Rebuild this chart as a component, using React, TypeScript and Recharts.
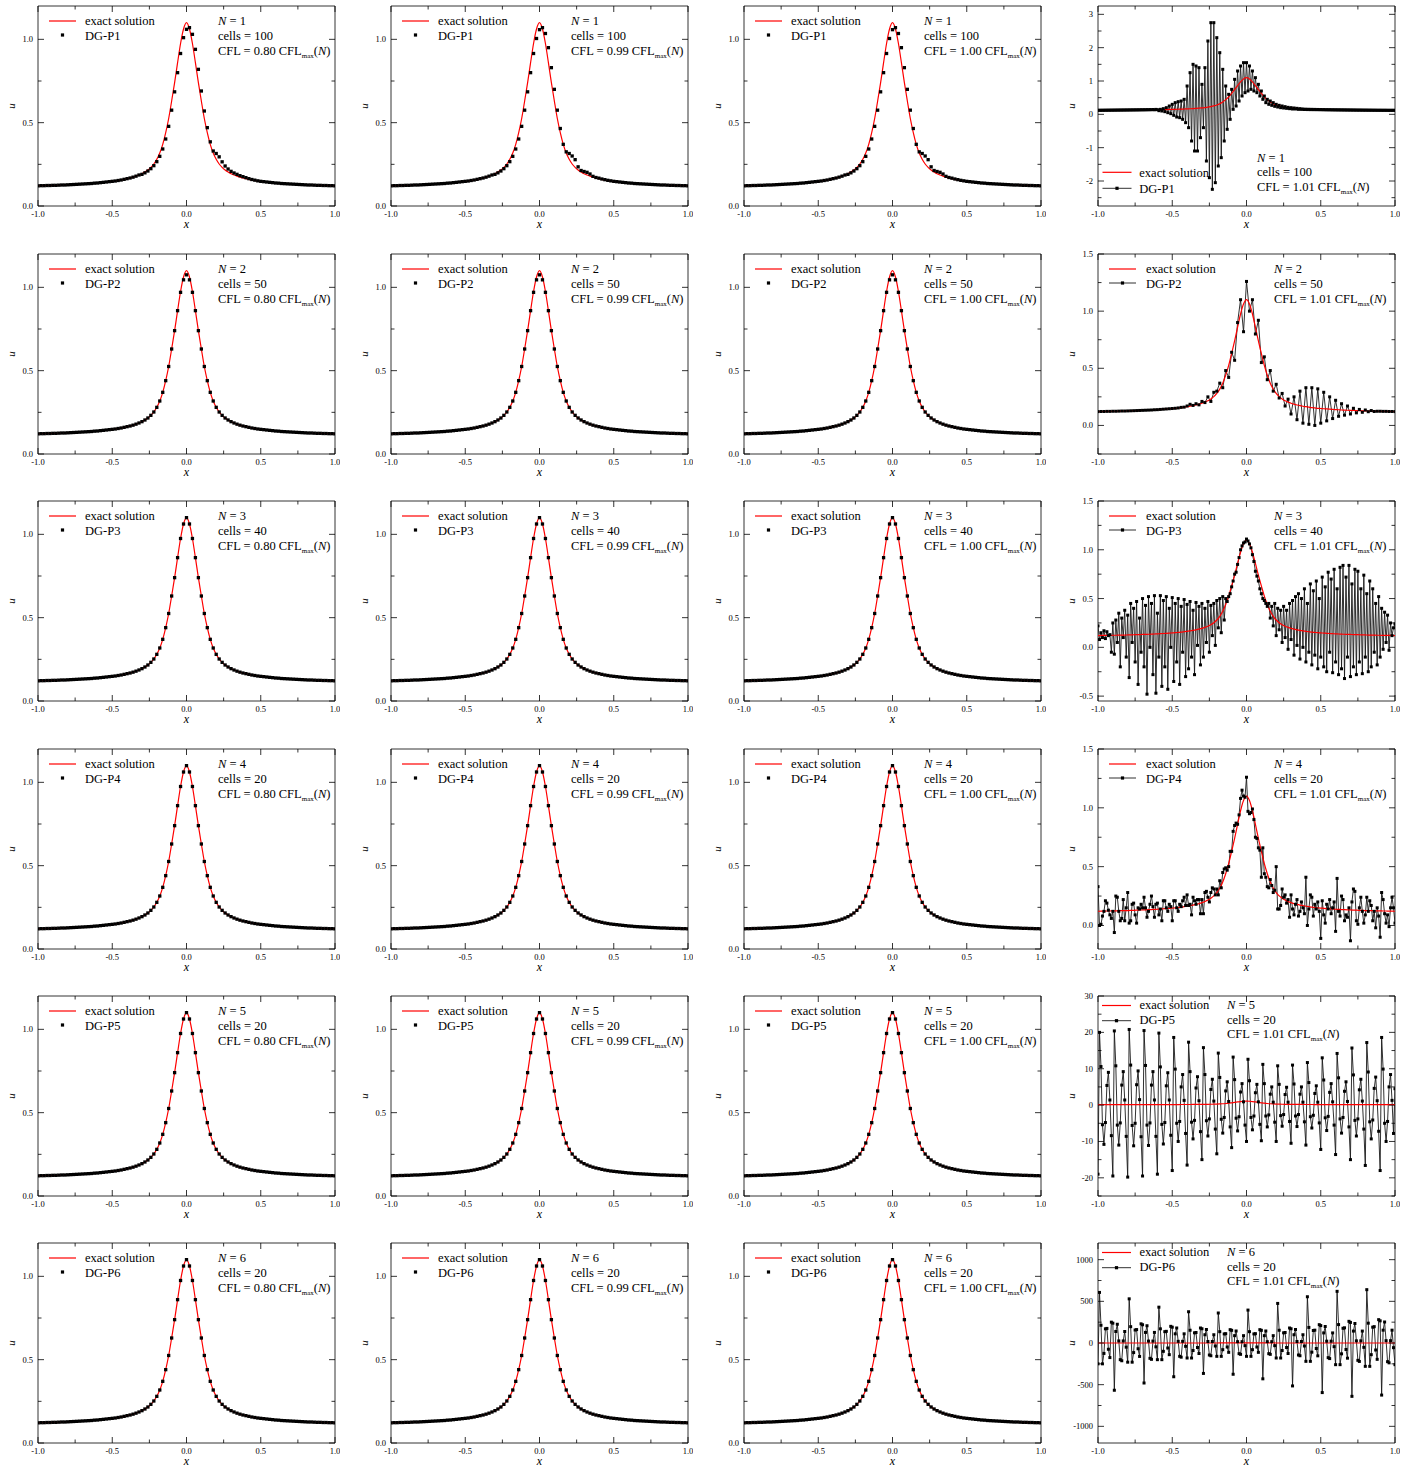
import { LineChart, Line, XAxis, YAxis, ReferenceArea } from "recharts";

const FONT = "'Liberation Serif', 'Times New Roman', Times, serif";
const PW = 297; // plot width
const PH = 200; // plot height
const ML = 36; // y axis width
const MT = 5; // top margin

const colLeft = [38, 391, 744, 1098];
const rowTop = [6, 254, 501, 749, 996, 1243];
const cflLabels = ["0.80", "0.99", "1.00", "1.01"];
const cellCounts = [100, 50, 40, 20, 20, 20];

const xTicks = [-1, -0.75, -0.5, -0.25, 0, 0.25, 0.5, 0.75, 1];
const xMajor = [-1, -0.5, 0, 0.5, 1];

// exact solution, sampled every 0.02 on [-1, 1]
const exactU = [
  0.121, 0.122, 0.122, 0.123, 0.123, 0.124, 0.124, 0.125, 0.126, 0.126,
  0.127, 0.128, 0.129, 0.13, 0.131, 0.132, 0.133, 0.134, 0.135, 0.137,
  0.138, 0.14, 0.142, 0.144, 0.146, 0.148, 0.15, 0.153, 0.156, 0.16,
  0.164, 0.168, 0.173, 0.179, 0.186, 0.194, 0.204, 0.216, 0.232, 0.252,
  0.28, 0.318, 0.37, 0.44, 0.525, 0.63, 0.74, 0.86, 0.975, 1.062,
  1.1,
  1.062, 0.975, 0.86, 0.74, 0.63, 0.525, 0.44, 0.37, 0.318, 0.28,
  0.252, 0.232, 0.216, 0.204, 0.194, 0.186, 0.179, 0.173, 0.168, 0.164,
  0.16, 0.156, 0.153, 0.15, 0.148, 0.146, 0.144, 0.142, 0.14, 0.138,
  0.137, 0.135, 0.134, 0.133, 0.132, 0.131, 0.13, 0.129, 0.128, 0.127,
  0.126, 0.126, 0.125, 0.124, 0.124, 0.123, 0.123, 0.122, 0.122, 0.121,
];

// DG-P1, 100 cells, CFL 0.80 (every 0.02)
const dgP1cfl080 = [
  0.121, 0.122, 0.122, 0.123, 0.123, 0.124, 0.124, 0.125, 0.126, 0.126,
  0.127, 0.128, 0.129, 0.13, 0.131, 0.132, 0.133, 0.134, 0.135, 0.137,
  0.138, 0.14, 0.142, 0.144, 0.146, 0.148, 0.15, 0.153, 0.156, 0.16,
  0.164, 0.168, 0.173, 0.179, 0.186, 0.19, 0.199, 0.21, 0.224, 0.242,
  0.266, 0.298, 0.342, 0.402, 0.478, 0.575, 0.685, 0.8, 0.915, 1.01,
  1.06,
  1.07, 1.03, 0.94, 0.82, 0.69, 0.57, 0.47, 0.385, 0.33, 0.315,
  0.295, 0.265, 0.24, 0.222, 0.208, 0.198, 0.19, 0.182, 0.176, 0.17,
  0.164, 0.159, 0.155, 0.151, 0.148, 0.146, 0.144, 0.142, 0.14, 0.138,
  0.137, 0.135, 0.134, 0.133, 0.132, 0.131, 0.13, 0.129, 0.128, 0.127,
  0.126, 0.126, 0.125, 0.124, 0.124, 0.123, 0.123, 0.122, 0.122, 0.121,
];

// DG-P1, 100 cells, CFL 0.99 / 1.00
const dgP1cfl099 = [
  0.121, 0.122, 0.122, 0.123, 0.123, 0.124, 0.124, 0.125, 0.126, 0.126,
  0.127, 0.128, 0.129, 0.13, 0.131, 0.132, 0.133, 0.134, 0.135, 0.137,
  0.138, 0.14, 0.142, 0.144, 0.146, 0.148, 0.15, 0.153, 0.156, 0.16,
  0.164, 0.168, 0.173, 0.179, 0.186, 0.19, 0.199, 0.21, 0.224, 0.242,
  0.266, 0.298, 0.342, 0.402, 0.478, 0.575, 0.685, 0.8, 0.915, 1.005,
  1.058,
  1.07, 1.035, 0.95, 0.83, 0.7, 0.575, 0.465, 0.37, 0.325, 0.315,
  0.3, 0.278, 0.235, 0.213, 0.207, 0.202, 0.192, 0.178, 0.171, 0.167,
  0.162, 0.158, 0.154, 0.151, 0.148, 0.146, 0.144, 0.142, 0.14, 0.138,
  0.137, 0.135, 0.134, 0.133, 0.132, 0.131, 0.13, 0.129, 0.128, 0.127,
  0.126, 0.126, 0.125, 0.124, 0.124, 0.123, 0.123, 0.122, 0.122, 0.121,
];

// DG-P2, 50 cells, stable CFL
const dgP2 = [
  0.121, 0.122, 0.122, 0.123, 0.123, 0.124, 0.124, 0.125, 0.126, 0.126,
  0.127, 0.128, 0.129, 0.13, 0.131, 0.132, 0.133, 0.134, 0.135, 0.137,
  0.138, 0.14, 0.142, 0.144, 0.146, 0.148, 0.15, 0.153, 0.156, 0.16,
  0.164, 0.168, 0.173, 0.179, 0.186, 0.194, 0.204, 0.216, 0.232, 0.252,
  0.28, 0.318, 0.37, 0.44, 0.525, 0.63, 0.74, 0.86, 0.97, 1.045,
  1.075,
  1.045, 0.97, 0.86, 0.74, 0.63, 0.525, 0.44, 0.37, 0.318, 0.28,
  0.252, 0.232, 0.216, 0.204, 0.194, 0.186, 0.179, 0.173, 0.168, 0.164,
  0.16, 0.156, 0.153, 0.15, 0.148, 0.146, 0.144, 0.142, 0.14, 0.138,
  0.137, 0.135, 0.134, 0.133, 0.132, 0.131, 0.13, 0.129, 0.128, 0.127,
  0.126, 0.126, 0.125, 0.124, 0.124, 0.123, 0.123, 0.122, 0.122, 0.121,
];

// CFL = 1.01 CFLmax runs
const unstableP1 = [
  0.12, 0.122, 0.121, 0.123, 0.122, 0.124, 0.123, 0.125, 0.124, 0.126,
  0.125, 0.127, 0.126, 0.128, 0.127, 0.129, 0.128, 0.13, 0.129, 0.131,
  0.13, 0.132, 0.131, 0.133, 0.132, 0.134, 0.133, 0.135, 0.134, 0.137,
  0.135, 0.138, 0.136, 0.14, 0.137, 0.142, 0.138, 0.145, 0.136, 0.148,
  0.14, 0.11, 0.15, 0.1, 0.17, 0.08, 0.2, 0.05, 0.25, 0.02,
  0.3, -0.03, 0.35, -0.08, 0.38, -0.1, 0.4, -0.15, 0.45, -0.25,
  0.85, -0.4, 1.25, -0.8, 1.5, -1.1, 1.45, -1.1, 1.4, -0.7,
  0.9, -0.4, 1.4, -1.4, 2.2, -1.9, 2.75, -2.25, 2.75, -2.05,
  2.3, -1.55, 1.85, -1.3, 1.35, -0.8, 0.85, -0.45, 0.6, -0.15,
  0.75, 0.15, 1.05, 0.25, 1.3, 0.4, 1.45, 0.55, 1.55, 0.65,
  1.55, 0.7, 1.45, 0.75, 1.3, 0.7, 1.1, 0.65, 0.9, 0.55,
  0.7, 0.45, 0.55, 0.35, 0.45, 0.3, 0.4, 0.27, 0.35, 0.24,
  0.3, 0.22, 0.27, 0.2, 0.25, 0.19, 0.23, 0.18, 0.21, 0.17,
  0.2, 0.16, 0.19, 0.16, 0.18, 0.15, 0.17, 0.15, 0.16, 0.145,
  0.155, 0.143, 0.152, 0.141, 0.15, 0.14, 0.148, 0.139, 0.146, 0.138,
  0.144, 0.137, 0.142, 0.136, 0.14, 0.135, 0.139, 0.134, 0.137, 0.133,
  0.136, 0.132, 0.135, 0.131, 0.134, 0.13, 0.133, 0.129, 0.132, 0.128,
  0.131, 0.127, 0.13, 0.126, 0.129, 0.125, 0.128, 0.125, 0.127, 0.124,
  0.126, 0.124, 0.125, 0.123, 0.125, 0.122, 0.124, 0.122, 0.123, 0.121,
  0.123, 0.121, 0.122, 0.121, 0.122, 0.12, 0.121, 0.12, 0.121, 0.12,
  0.12,
];

const unstableP2 = [
  0.121, 0.122, 0.122, 0.123, 0.123, 0.124, 0.124, 0.125, 0.126, 0.126,
  0.127, 0.128, 0.129, 0.13, 0.131, 0.132, 0.133, 0.134, 0.135, 0.137,
  0.138, 0.14, 0.142, 0.144, 0.146, 0.148,
  0.15, 0.153, 0.158, 0.16, 0.17, 0.185, 0.175, 0.19, 0.18, 0.21,
  0.2, 0.25, 0.21, 0.29, 0.3, 0.37, 0.33, 0.48, 0.42,
  0.64, 0.57, 0.9, 1.1, 0.82, 1.26, 1.0, 1.1, 0.8, 0.92,
  0.55, 0.6, 0.4, 0.48, 0.3, 0.36, 0.24, 0.28, 0.17, 0.23,
  0.1, 0.25, 0.05, 0.3, 0.02, 0.33, 0.01, 0.33, 0.0, 0.32,
  0.02, 0.29, 0.04, 0.25, 0.06, 0.22, 0.08, 0.19, 0.09, 0.17,
  0.1, 0.15, 0.11, 0.14, 0.115, 0.135, 0.12, 0.13, 0.122, 0.124,
  0.124, 0.123, 0.123, 0.122, 0.122, 0.121,
];

const unstableP3 = [
  0.22, 0.08, 0.15, 0.1, 0.17, 0.09, 0.16, 0.12, 0.13, -0.05,
  0.25, -0.07, 0.28, 0.05, 0.35, -0.2, 0.3, 0.1, 0.38, -0.1,
  0.33, -0.31, 0.45, 0.05, 0.4, -0.15, 0.47, -0.38, 0.3, -0.05,
  0.5, -0.2, 0.43, -0.48, 0.52, 0.0, 0.45, -0.28, 0.53, -0.47,
  0.35, -0.1, 0.53, -0.4, 0.48, -0.2, 0.52, -0.43, 0.4, 0.0,
  0.51, -0.35, 0.45, -0.15, 0.5, -0.38, 0.42, -0.05, 0.49, -0.3,
  0.44, -0.22, 0.47, -0.1, 0.38, -0.28, 0.46, 0.02, 0.42, -0.18,
  0.45, -0.1, 0.4, 0.05, 0.47, -0.05, 0.43, 0.12, 0.45, 0.02,
  0.48, 0.2, 0.5, 0.15, 0.52, 0.28,
  0.5, 0.47, 0.52, 0.55, 0.62, 0.68, 0.75, 0.77, 0.85, 0.92,
  1.0, 1.04, 1.07, 1.08, 1.11, 1.09, 1.06, 1.02, 0.95, 0.88,
  0.78, 0.73, 0.68, 0.6, 0.55, 0.5, 0.48, 0.45, 0.42,
  0.45, 0.3, 0.42, 0.22, 0.45, 0.12, 0.4, 0.18, 0.38, 0.05,
  0.42, 0.1, 0.38, -0.02, 0.45, 0.08, 0.48, -0.08, 0.52, 0.02,
  0.55, -0.12, 0.5, 0.0, 0.6, -0.15, 0.45, -0.05, 0.65, -0.18,
  0.58, -0.08, 0.68, -0.22, 0.5, -0.1, 0.72, -0.2, 0.62, -0.25,
  0.77, -0.05, 0.7, -0.26, 0.8, -0.15, 0.6, -0.28, 0.82, -0.22,
  0.84, -0.32, 0.72, -0.1, 0.84, -0.3, 0.65, -0.2, 0.8, -0.28,
  0.78, -0.15, 0.6, -0.27, 0.74, -0.1, 0.55, -0.25, 0.68, -0.2,
  0.6, -0.05, 0.45, -0.18, 0.52, -0.1, 0.4, -0.02, 0.36, 0.05,
  0.33, -0.03, 0.25, 0.12, 0.2, 0.24,
];

const unstableP4 = [
  0.33, 0.0, 0.01, 0.08, 0.12, 0.21, 0.19, 0.13, 0.09, 0.06,
  0.12, -0.06, 0.25, 0.24, 0.12, 0.04, 0.06, 0.22, 0.04, 0.15,
  0.28, 0.02, 0.04, 0.18, 0.19, 0.09, 0.02, 0.15, 0.14, 0.18,
  0.15, 0.24, 0.15, 0.07, 0.12, 0.18, 0.25, 0.16, 0.07, 0.18,
  0.19, 0.09, 0.14, 0.04, 0.21, 0.21, 0.15, 0.12, 0.18, 0.16,
  0.04, 0.21, 0.21, 0.15, 0.12, 0.18, 0.16, 0.21, 0.24, 0.17,
  0.26, 0.17, 0.18, 0.09, 0.24, 0.21, 0.18, 0.22, 0.22, 0.1,
  0.22, 0.1, 0.28, 0.29, 0.24, 0.2, 0.28, 0.32, 0.31, 0.26,
  0.31, 0.26, 0.38, 0.32, 0.45, 0.48, 0.49, 0.47, 0.5, 0.63,
  0.63, 0.8, 0.85, 0.87, 0.86, 0.94, 1.08, 1.15, 1.1, 1.09,
  1.26,
  0.97, 0.95, 0.96, 0.99, 0.9, 0.75, 0.74, 0.66, 0.64, 0.41,
  0.66, 0.44, 0.41, 0.33, 0.32, 0.39, 0.34, 0.28, 0.3, 0.5,
  0.14, 0.14, 0.17, 0.31, 0.24, 0.26, 0.19, 0.22, 0.07, 0.26,
  0.14, 0.09, 0.18, 0.22, 0.08, 0.12, 0.2, 0.15, 0.1, 0.41,
  0.0, 0.14, 0.26, 0.24, 0.08, 0.18, 0.14, 0.2, 0.12, -0.11,
  0.21, 0.09, 0.02, 0.18, 0.14, 0.22, 0.1, 0.15, 0.2, -0.05,
  0.4, 0.12, 0.08, 0.25, 0.22, 0.04, 0.09, 0.07, 0.15, -0.13,
  0.2, 0.31, 0.29, 0.04, 0.01, 0.15, 0.24, 0.12, 0.02, 0.09,
  0.24, 0.12, 0.21, 0.17, 0.04, 0.12, -0.02, 0.15, 0.08, -0.1,
  0.28, 0.22, 0.1, 0.02, 0.09, -0.01, 0.15, 0.24, 0.15, 0.02,
];

const unstableP5 = [
  -19, 20, 10.6, -5.4, -10.8, -4.8, 5.4, 9, 1.4, -8.4,
  -19.5, 20.4, 10.8, -5.5, -11, -4.9, 5.5, 9.2, 1.4, -8.6,
  -19.8, 20.8, 11, -5.6, -11.2, -5, 5.6, 9.4, 1.5, -8.7,
  -19.5, 20.5, 10.9, -5.5, -11.1, -4.9, 5.5, 9.2, 1.4, -8.6,
  -19, 19.8, 10.5, -5.3, -10.7, -4.8, 5.3, 8.9, 1.4, -8.3,
  -18, 18.6, 9.9, -5, -10, -4.5, 5, 8.4, 1.3, -7.8,
  -16.5, 17.3, 9.2, -4.7, -9.3, -4.2, 4.7, 7.8, 1.2, -7.3,
  -15, 15.8, 8.4, -4.3, -8.5, -3.8, 4.3, 7.1, 1.1, -6.6,
  -13.4, 14.3, 7.6, -3.9, -7.7, -3.4, 3.9, 6.4, 1, -6,
  -11.7, 13.2, 7, -3.6, -7.1, -3.2, 3.6, 5.9, 0.9, -5.5,
  -10, 12.6, 6.7, -3.4, -6.8, -3, 3.4, 5.7, 0.9, -5.3,
  -9.8, 11.2, 5.9, -3, -6, -2.7, 3, 5, 0.8, -4.7,
  -10, 10.8, 5.7, -2.9, -5.8, -2.6, 2.9, 4.9, 0.8, -4.5,
  -10.5, 11, 5.8, -3, -5.9, -2.6, 3, 5, 0.8, -4.6,
  -11, 11.7, 6.2, -3.2, -6.3, -2.8, 3.2, 5.3, 0.8, -4.9,
  -12.2, 13, 6.9, -3.5, -7, -3.1, 3.5, 5.9, 0.9, -5.5,
  -13.6, 14.2, 7.5, -3.8, -7.7, -3.4, 3.8, 6.4, 1, -6,
  -15, 15.7, 8.3, -4.2, -8.5, -3.8, 4.2, 7.1, 1.1, -6.6,
  -16.6, 17.2, 9.1, -4.6, -9.3, -4.1, 4.6, 7.7, 1.2, -7.2,
  -18, 18.6, 9.9, -5, -10, -4.5, 5, 8.4, 1.3, -7.8,
  4.5,
];

const unstableP6 = [
  -250, 607, 213, -250, -125, 170, 175, -75, -175, 250, 238, -567, 138, 225, 25, -200, -213, 25, 138, -50,
  -230, 530, 196, -230, -115, 156, 161, -69, -161, 230, 219, -480, 127, 207, 23, -184, -196, 23, 127, -46,
  -200, 430, 170, -200, -100, 136, 140, -60, -140, 200, 190, -405, 110, 180, 20, -160, -170, 20, 110, -40,
  -180, 375, 153, -180, -90, 122, 126, -54, -126, 180, 171, -365, 99, 162, 18, -144, -153, 18, 99, -36,
  -160, 360, 136, -160, -80, 109, 112, -48, -112, 160, 152, -375, 88, 144, 16, -128, -136, 16, 88, -32,
  -160, 395, 136, -160, -80, 109, 112, -48, -112, 160, 152, -430, 88, 144, 16, -128, -136, 16, 88, -32,
  -180, 475, 153, -180, -90, 122, 126, -54, -126, 180, 171, -515, 99, 162, 18, -144, -153, 18, 99, -36,
  -220, 555, 187, -220, -110, 150, 154, -66, -154, 220, 209, -595, 121, 198, 22, -176, -187, 22, 121, -44,
  -260, 620, 221, -260, -130, 177, 182, -78, -182, 260, 247, -640, 143, 234, 26, -208, -221, 26, 143, -52,
  -280, 640, 238, -280, -140, 190, 196, -84, -196, 280, 266, -625, 154, 252, 28, -224, -238, 28, 154, -56,
  -260,
];

const stableSeries = [
  [dgP1cfl080, dgP1cfl099, dgP1cfl099],
  [dgP2, dgP2, dgP2],
  [exactU, exactU, exactU],
  [exactU, exactU, exactU],
  [exactU, exactU, exactU],
  [exactU, exactU, exactU],
];
const unstableSeries = [unstableP1, unstableP2, unstableP3, unstableP4, unstableP5, unstableP6];

type Axis = { domain: [number, number]; ticks: number[]; major: number[]; digits: number };

const stableAxis: Axis = { domain: [0, 1.2], ticks: [0, 0.25, 0.5, 0.75, 1], major: [0, 0.5, 1], digits: 1 };
const unstableAxes: Axis[] = [
  { domain: [-2.75, 3.25], ticks: [-2.5, -2, -1.5, -1, -0.5, 0, 0.5, 1, 1.5, 2, 2.5, 3], major: [-2, -1, 0, 1, 2, 3], digits: 0 },
  { domain: [-0.25, 1.5], ticks: [-0.25, 0, 0.25, 0.5, 0.75, 1, 1.25, 1.5], major: [0, 0.5, 1, 1.5], digits: 1 },
  { domain: [-0.55, 1.5], ticks: [-0.5, -0.25, 0, 0.25, 0.5, 0.75, 1, 1.25, 1.5], major: [-0.5, 0, 0.5, 1, 1.5], digits: 1 },
  { domain: [-0.2, 1.5], ticks: [0, 0.25, 0.5, 0.75, 1, 1.25, 1.5], major: [0, 0.5, 1, 1.5], digits: 1 },
  { domain: [-25, 30], ticks: [-25, -20, -15, -10, -5, 0, 5, 10, 15, 20, 25, 30], major: [-20, -10, 0, 10, 20, 30], digits: 0 },
  { domain: [-1200, 1200], ticks: [-1000, -750, -500, -250, 0, 250, 500, 750, 1000], major: [-1000, -500, 0, 500, 1000], digits: 0 },
];

type Layout = {
  lx1: number; lx2: number; ly1: number; ty1: number; ly2: number; ty2: number;
  tx: number; ax: number; ay: number[];
};
const layoutTop: Layout = { lx1: 11, lx2: 38, ly1: 15, ty1: 18.5, ly2: 29, ty2: 34.3, tx: 47, ax: 180, ay: [19.3, 33.8, 49.3] };
const layoutUnstableTop: Layout = { ...layoutTop, tx: 48, ax: 176 };
const layoutBottom: Layout = { lx1: 4.5, lx2: 33.5, ly1: 166.3, ty1: 170.7, ly2: 182.3, ty2: 186.7, tx: 41.3, ax: 159, ay: [155.7, 170, 184.7] };
const layoutTight: Layout = { lx1: 4, lx2: 33, ly1: 9.5, ty1: 13, ly2: 24.7, ty2: 28, tx: 41.5, ax: 129, ay: [13, 27.7, 42] };

function toPoints(values: number[]) {
  const n = values.length - 1;
  return values.map((u, i) => ({ x: -1 + (2 * i) / n, u }));
}

function squareDot(size: number) {
  return (props: any) => {
    const { cx, cy, index } = props;
    if (cx == null || cy == null) return <g key={`d-${index}`} />;
    return <rect key={`d-${index}`} x={cx - size / 2} y={cy - size / 2} width={size} height={size} fill="#000" />;
  };
}

const isIn = (list: number[], v: number) => list.some((m) => Math.abs(m - v) < 1e-9);

function xTick(props: any) {
  const { x, y, payload, index } = props;
  const v = payload.value as number;
  const major = isIn(xMajor, v);
  const len = major ? 6 : 3.5;
  return (
    <g key={`xt-${index}`}>
      <line x1={x} y1={y} x2={x} y2={y - len} stroke="#000" strokeWidth={0.8} />
      <line x1={x} y1={y - PH} x2={x} y2={y - PH + len} stroke="#000" strokeWidth={0.8} />
      {major && (
        <text x={x} y={y + 10.5} textAnchor="middle" fontSize={8.5} fontFamily={FONT} fill="#000">
          {v.toFixed(1)}
        </text>
      )}
    </g>
  );
}

function makeYTick(axis: Axis) {
  return (props: any) => {
    const { x, y, payload, index } = props;
    const v = payload.value as number;
    const major = isIn(axis.major, v);
    const len = major ? 6 : 3.5;
    return (
      <g key={`yt-${index}`}>
        <line x1={x} y1={y} x2={x + len} y2={y} stroke="#000" strokeWidth={0.8} />
        <line x1={x + PW} y1={y} x2={x + PW - len} y2={y} stroke="#000" strokeWidth={0.8} />
        {major && (
          <text x={x - 5} y={y + 3} textAnchor="end" fontSize={8.5} fontFamily={FONT} fill="#000">
            {v.toFixed(axis.digits)}
          </text>
        )}
      </g>
    );
  };
}

type PanelProps = {
  left: number; top: number; n: number; cells: number; cfl: string;
  dg: number[]; unstable: boolean; axis: Axis; layout: Layout;
};

function Panel({ left, top, n, cells, cfl, dg, unstable, axis, layout }: PanelProps) {
  const exactPts = toPoints(exactU);
  const dgPts = toPoints(dg);
  const L = layout;
  const ox = ML;
  const oy = MT;
  const exactLine = (
    <Line key="exact" data={exactPts} dataKey="u" type="monotone" stroke="#ff0000" strokeWidth={1.2}
      dot={false} activeDot={false} isAnimationActive={false} />
  );
  const dgLine = unstable ? (
    <Line key="dg" data={dgPts} dataKey="u" type="linear" stroke="#1a1a1a" strokeWidth={0.9}
      dot={squareDot(3)} activeDot={false} isAnimationActive={false} />
  ) : (
    <Line key="dg" data={dgPts} dataKey="u" type="linear" stroke="none"
      dot={squareDot(3.3)} activeDot={false} isAnimationActive={false} />
  );
  const midX = ox + (L.lx1 + L.lx2) / 2;
  const ux = ox - 27;
  const uy = oy + PH / 2;
  return (
    <div style={{ position: "absolute", left: left - ML, top: top - MT }}>
      <LineChart width={ML + PW + 5} height={MT + PH + 30} margin={{ top: MT, right: 5, left: 0, bottom: 0 }}>
        <XAxis type="number" dataKey="x" domain={[-1, 1]} ticks={xTicks} interval={0} tickSize={0} tickMargin={0}
          tick={xTick} axisLine={false} tickLine={false} height={30} allowDataOverflow />
        <YAxis type="number" domain={axis.domain} ticks={axis.ticks} interval={0} tickSize={0} tickMargin={0}
          tick={makeYTick(axis)} axisLine={false} tickLine={false} width={ML} allowDataOverflow />
        {unstable ? [dgLine, exactLine] : [exactLine, dgLine]}
        <ReferenceArea x1={-1} x2={1} y1={axis.domain[0]} y2={axis.domain[1]} fill="none" fillOpacity={0}
          stroke="#000" strokeWidth={0.8} />
        <g fontFamily={FONT} fill="#000">
          <text x={ux} y={uy} fontSize={11} fontStyle="italic" textAnchor="middle" dominantBaseline="central"
            transform={`rotate(-90 ${ux} ${uy})`}>u</text>
          <text x={ox + PW / 2} y={oy + PH + 22.3} fontSize={12} fontStyle="italic" textAnchor="middle">x</text>
          <line x1={ox + L.lx1} y1={oy + L.ly1} x2={ox + L.lx2} y2={oy + L.ly1} stroke="#ff0000" strokeWidth={1.2} />
          <text x={ox + L.tx} y={oy + L.ty1} fontSize={12.5}>exact solution</text>
          {unstable && (
            <line x1={ox + L.lx1} y1={oy + L.ly2} x2={ox + L.lx2} y2={oy + L.ly2} stroke="#1a1a1a" strokeWidth={0.9} />
          )}
          <rect x={midX - 1.6} y={oy + L.ly2 - 1.6} width={3.2} height={3.2} fill="#000" />
          <text x={ox + L.tx} y={oy + L.ty2} fontSize={12.5}>DG-P{n}</text>
          <text x={ox + L.ax} y={oy + L.ay[0]} fontSize={12.5}>
            <tspan fontStyle="italic">N</tspan> = {n}
          </text>
          <text x={ox + L.ax} y={oy + L.ay[1]} fontSize={12.5}>cells = {cells}</text>
          <text x={ox + L.ax} y={oy + L.ay[2]} fontSize={12.5}>
            CFL = {cfl} CFL<tspan fontSize={7} dy={3}>max</tspan>
            <tspan dy={-3}>(</tspan>
            <tspan fontStyle="italic">N</tspan>)
          </text>
        </g>
      </LineChart>
    </div>
  );
}

export default function App() {
  const panels = [];
  for (let r = 0; r < 6; r++) {
    for (let c = 0; c < 4; c++) {
      const unstable = c === 3;
      const layout = !unstable ? layoutTop : r === 0 ? layoutBottom : r >= 4 ? layoutTight : layoutUnstableTop;
      panels.push(
        <Panel
          key={`${r}-${c}`}
          left={colLeft[c]}
          top={rowTop[r]}
          n={r + 1}
          cells={cellCounts[r]}
          cfl={cflLabels[c]}
          dg={unstable ? unstableSeries[r] : stableSeries[r][c]}
          unstable={unstable}
          axis={unstable ? unstableAxes[r] : stableAxis}
          layout={layout}
        />
      );
    }
  }
  return (
    <div style={{ position: "absolute", left: 0, top: 0, width: 1427, height: 1467, background: "#fff" }}>
      {panels}
    </div>
  );
}
